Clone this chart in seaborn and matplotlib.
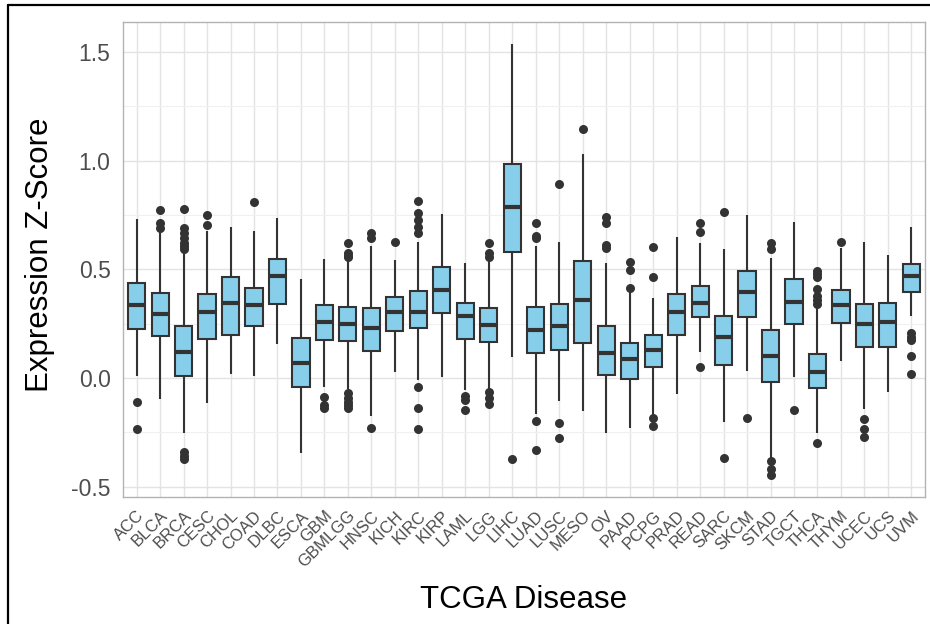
import numpy as np
import pandas as pd
import matplotlib
matplotlib.use("Agg")
import matplotlib.pyplot as plt
import seaborn as sns
from matplotlib.lines import Line2D

# ----------------------------------------------------------
# Data
# ----------------------------------------------------------

diseases = ["ACC", "BLCA", "BRCA", "CESC", "CHOL", "COAD", "DLBC", "ESCA",
            "GBM", "GBMLGG", "HNSC", "KICH", "KIRC", "KIRP", "LAML", "LGG",
            "LIHC", "LUAD", "LUSC", "MESO", "OV", "PAAD", "PCPG", "PRAD",
            "READ", "SARC", "SKCM", "STAD", "TGCT", "THCA", "THYM", "UCEC",
            "UCS", "UVM"]

whisk_lo = [0.009, -0.098, -0.253, -0.116, 0.017, 0.011, 0.156, -0.343,
            -0.040, -0.052, -0.175, 0.026, -0.010, 0.003, -0.056, -0.052,
            0.095, -0.167, -0.104, -0.150, -0.254, -0.231, -0.170, -0.073,
            0.121, -0.204, 0.032, -0.377, 0.003, -0.254, 0.080, -0.144,
            -0.064, 0.285]
q1 = [0.227, 0.193, 0.011, 0.179, 0.200, 0.239, 0.340, -0.043,
      0.173, 0.169, 0.123, 0.216, 0.230, 0.297, 0.178, 0.166,
      0.580, 0.116, 0.129, 0.163, 0.014, -0.005, 0.052, 0.196,
      0.282, 0.060, 0.282, -0.018, 0.247, -0.047, 0.254, 0.141,
      0.141, 0.397]
med = [0.336, 0.293, 0.120, 0.302, 0.345, 0.336, 0.468, 0.069,
       0.258, 0.247, 0.230, 0.302, 0.305, 0.405, 0.284, 0.245,
       0.785, 0.220, 0.239, 0.359, 0.115, 0.088, 0.129, 0.305,
       0.345, 0.190, 0.395, 0.103, 0.351, 0.026, 0.336, 0.248,
       0.256, 0.471]
q3 = [0.438, 0.389, 0.239, 0.388, 0.466, 0.415, 0.546, 0.182,
      0.336, 0.325, 0.323, 0.371, 0.400, 0.512, 0.343, 0.323,
      0.982, 0.325, 0.339, 0.538, 0.237, 0.160, 0.200, 0.385,
      0.425, 0.287, 0.493, 0.220, 0.454, 0.109, 0.405, 0.340,
      0.346, 0.526]
whisk_hi = [0.731, 0.675, 0.585, 0.675, 0.693, 0.674, 0.736, 0.457,
            0.547, 0.540, 0.608, 0.545, 0.627, 0.752, 0.530, 0.545,
            1.538, 0.608, 0.627, 1.030, 0.531, 0.401, 0.366, 0.650,
            0.619, 0.593, 0.751, 0.550, 0.719, 0.330, 0.600, 0.624,
            0.567, 0.693]

outliers = [
    [-0.110, -0.236],                                        # ACC
    [0.692, 0.714, 0.772],                                   # BLCA
    [0.777, 0.690, 0.667, 0.645, 0.622, 0.605, 0.592,
     -0.342, -0.357, -0.371],                                # BRCA
    [0.748, 0.704],                                          # CESC
    [],                                                      # CHOL
    [0.808],                                                 # COAD
    [],                                                      # DLBC
    [],                                                      # ESCA
    [-0.089, -0.125, -0.138],                                # GBM
    [0.619, 0.573, 0.563, 0.555, -0.070, -0.090, -0.110,
     -0.125, -0.138],                                        # GBMLGG
    [0.668, 0.645, -0.229],                                  # HNSC
    [0.627],                                                 # KICH
    [0.814, 0.757, 0.727, 0.696, 0.665, -0.040, -0.136,
     -0.233],                                                # KIRC
    [],                                                      # KIRP
    [-0.082, -0.102, -0.147],                                # LAML
    [0.619, 0.573, 0.558, -0.063, -0.094, -0.120],           # LGG
    [-0.371],                                                # LIHC
    [0.714, 0.652, 0.642, -0.198, -0.331],                   # LUAD
    [0.894, -0.209, -0.277],                                 # LUSC
    [1.146],                                                 # MESO
    [0.742, 0.711, 0.610, 0.600],                            # OV
    [0.535, 0.497, 0.415],                                   # PAAD
    [0.604, 0.466, -0.185, -0.220],                          # PCPG
    [],                                                      # PRAD
    [0.711, 0.671, 0.052],                                   # READ
    [0.762, -0.368],                                         # SARC
    [-0.182],                                                # SKCM
    [0.619, 0.592, -0.381, -0.420, -0.446],                  # STAD
    [-0.147],                                                # TGCT
    [0.493, 0.480, 0.466, 0.408, 0.375, 0.357, 0.340,
     -0.299],                                                # THCA
    [0.627],                                                 # THYM
    [-0.189, -0.233, -0.272],                                # UCEC
    [],                                                      # UCS
    [0.205, 0.190, 0.175, 0.101, 0.017],                     # UVM
]

# ----------------------------------------------------------
# Long tables for seaborn
# ----------------------------------------------------------

box_df = pd.DataFrame({
    "disease": np.repeat(diseases, 5),
    "value": np.ravel(np.column_stack([whisk_lo, q1, med, q3, whisk_hi])),
})

out_df = pd.DataFrame({
    "disease": [d for d, o in zip(diseases, outliers) for _ in o],
    "value": [v for o in outliers for v in o],
})

# ----------------------------------------------------------
# Style
# ----------------------------------------------------------

sns.set_style("white")
plt.rcParams["font.family"] = ["Liberation Sans", "DejaVu Sans"]

edge = "#333333"
fill = "#87CEEB"

fig = plt.figure(figsize=(9.3, 6.24), dpi=100)
ax = fig.add_axes([123 / 930, 127 / 624, 802 / 930, 475 / 624])

sns.boxplot(
    data=box_df, x="disease", y="value", order=diseases,
    whis=(0, 100), width=0.73, color=fill, linecolor=edge, linewidth=1.5,
    showfliers=False, showcaps=False, saturation=1,
    medianprops={"linewidth": 3.0, "color": edge},
    ax=ax,
)

sns.stripplot(
    data=out_df, x="disease", y="value", order=diseases,
    jitter=False, color=edge, size=6.5, linewidth=0,
    ax=ax,
)

# ----------------------------------------------------------
# Axes cosmetics (ggplot theme_light look)
# ----------------------------------------------------------

ax.set_xlim(-0.58, len(diseases) - 1 + 0.58)
ax.set_ylim(-0.547, 1.637)

ax.set_yticks([-0.5, 0.0, 0.5, 1.0, 1.5])
ax.set_yticklabels(["-0.5", "0.0", "0.5", "1.0", "1.5"])
ax.set_yticks([-0.25, 0.25, 0.75, 1.25], minor=True)

ax.grid(True, which="major", color="#e3e3e3", linewidth=1.0)
ax.grid(True, which="minor", axis="y", color="#f0f0f0", linewidth=0.8)
ax.set_axisbelow(True)

for s in ax.spines.values():
    s.set_color("#b3b3b3")
    s.set_linewidth(1.0)

ax.tick_params(axis="both", which="major", length=6, width=1.0,
               color="#b3b3b3", labelcolor="#4d4d4d")
ax.tick_params(axis="y", which="minor", length=0)
ax.tick_params(axis="y", labelsize=16.5, pad=3)
ax.tick_params(axis="x", labelsize=12, pad=2)

for lab in ax.get_xticklabels():
    lab.set_rotation(45)
    lab.set_ha("right")
    lab.set_rotation_mode("anchor")

ax.set_xlabel("TCGA Disease", fontsize=22.5, color="black")
ax.set_ylabel("Expression Z-Score", fontsize=22.5, color="black")
ax.xaxis.set_label_coords(0.5, (497 - 600) / 475)
ax.xaxis.label.set_va("center")
ax.yaxis.set_label_coords((40 - 123) / 802, (497 - 255) / 475)
ax.yaxis.label.set_va("center")

# outer black frame (top and left edges visible in the crop)
fig.add_artist(Line2D([8 / 930, 1.0], [1 - 5 / 624, 1 - 5 / 624],
                      transform=fig.transFigure, color="black", linewidth=1.6))
fig.add_artist(Line2D([8 / 930, 8 / 930], [0.0, 1 - 5 / 624],
                      transform=fig.transFigure, color="black", linewidth=1.6))

fig.savefig("out.png", dpi=100, facecolor="white")
plt.close(fig)
